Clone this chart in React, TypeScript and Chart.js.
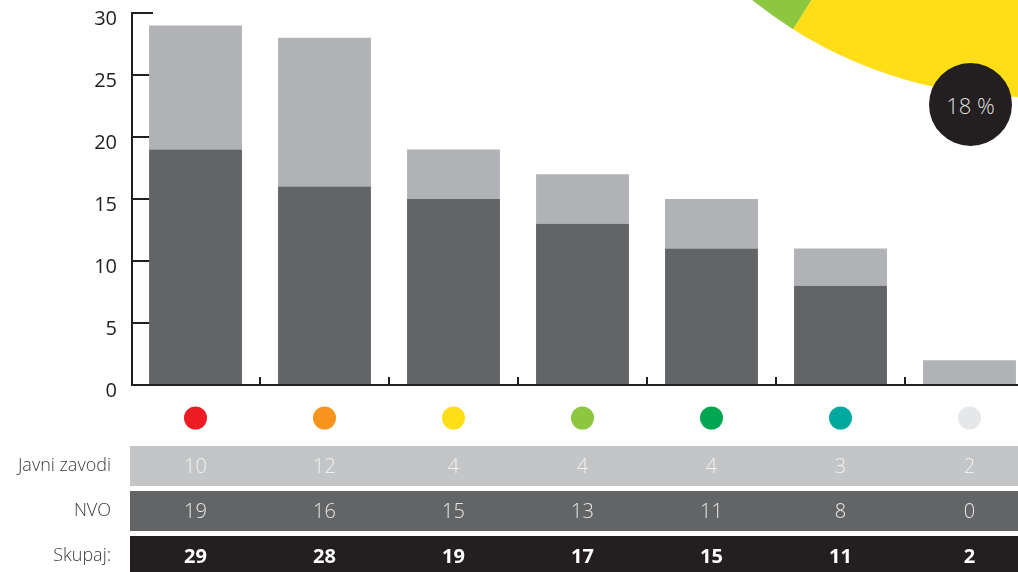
import React, { useEffect, useRef } from "react";
import { Chart, registerables } from "chart.js";
Chart.register(...registerables);

const categories = ["Rdeča", "Oranžna", "Rumena", "Svetlo zelena", "Zelena", "Turkizna", "Siva"];
const dotColors = ["#ed1c24", "#f7941d", "#ffde17", "#8dc63f", "#00a651", "#00a99d", "#e6e7e8"];
const javniZavodi = [10, 12, 4, 4, 4, 3, 2];
const nvo = [19, 16, 15, 13, 11, 8, 0];
const yTicks = [0, 5, 10, 15, 20, 25, 30];
const rowLabels = ["Javni zavodi", "NVO", "Skupaj:"];
const pieShares = [24, 23, 18, 14, 12, 8, 1];
const highlightLabel = "18 %";

const FONT = '"Open Sans", "Noto Sans", sans-serif';

export default function App() {
  const mainRef = useRef<HTMLCanvasElement | null>(null);
  const pieRef = useRef<HTMLCanvasElement | null>(null);

  useEffect(() => {
    const totals = javniZavodi.map((v, i) => v + nvo[i]);

    const decor = {
      id: "decor",
      beforeDatasetsDraw(chart: any) {
        const ctx = chart.ctx;
        const { left } = chart.chartArea;
        const y = chart.scales.y;
        ctx.save();
        ctx.strokeStyle = "#231f20";
        ctx.lineWidth = 2;
        ctx.fillStyle = "#231f20";
        ctx.font = `20px ${FONT}`;
        ctx.textAlign = "right";
        ctx.textBaseline = "middle";
        yTicks.forEach((v) => {
          const py = Math.round(y.getPixelForValue(v));
          if (v !== 0) {
            ctx.beginPath();
            ctx.moveTo(left, py);
            ctx.lineTo(left + 22, py);
            ctx.stroke();
          }
          ctx.fillText(String(v), left - 14, py + 6);
        });
        ctx.beginPath();
        ctx.moveTo(left + 1, Math.round(y.getPixelForValue(30)) - 1);
        ctx.lineTo(left + 1, Math.round(y.getPixelForValue(0)));
        ctx.stroke();
        ctx.restore();
      },
      afterDatasetsDraw(chart: any) {
        const ctx = chart.ctx;
        const { left, right, bottom } = chart.chartArea;
        const x = chart.scales.x;
        ctx.save();
        ctx.strokeStyle = "#231f20";
        ctx.lineWidth = 2;
        ctx.beginPath();
        ctx.moveTo(left, bottom);
        ctx.lineTo(right, bottom);
        ctx.stroke();
        for (let i = 1; i < categories.length; i++) {
          const bx = Math.round((x.getPixelForValue(i - 1) + x.getPixelForValue(i)) / 2);
          ctx.beginPath();
          ctx.moveTo(bx, bottom);
          ctx.lineTo(bx, bottom - 8);
          ctx.stroke();
        }
        ctx.restore();
      },
      afterDraw(chart: any) {
        const ctx = chart.ctx;
        const { left, bottom } = chart.chartArea;
        const x = chart.scales.x;
        const W = chart.width;
        ctx.save();
        // dots
        categories.forEach((_, i) => {
          ctx.beginPath();
          ctx.fillStyle = dotColors[i];
          ctx.arc(x.getPixelForValue(i), bottom + 33, 11.5, 0, Math.PI * 2);
          ctx.fill();
        });
        // table rows
        const rows = [
          { top: 61, h: 40, bg: "#c4c5c7", fg: "#f1f1f1", vals: javniZavodi, bold: false },
          { top: 106, h: 40, bg: "#636466", fg: "#e6e6e6", vals: nvo, bold: false },
          { top: 151, h: 40, bg: "#231f20", fg: "#ffffff", vals: totals, bold: true },
        ];
        rows.forEach((r, ri) => {
          const ty = bottom + r.top;
          ctx.fillStyle = r.bg;
          ctx.fillRect(left - 1, ty, W - left + 1, r.h);
          ctx.fillStyle = r.fg;
          ctx.font = `${r.bold ? "bold " : "300 "}20px ${FONT}`;
          ctx.textAlign = "center";
          ctx.textBaseline = "middle";
          const cy = ri === 2 ? ty + 20 : ty + r.h / 2;
          r.vals.forEach((v, i) => {
            ctx.fillText(String(v), x.getPixelForValue(i), cy + 1);
          });
          ctx.fillStyle = "#3a3a3a";
          ctx.font = `300 18px ${FONT}`;
          ctx.textAlign = "right";
          ctx.fillText(rowLabels[ri], left - 20, cy);
        });
        ctx.restore();
      },
    };

    const main = new Chart(mainRef.current!, {
      type: "bar",
      data: {
        labels: categories,
        datasets: [
          { label: "NVO", data: nvo, backgroundColor: "#636466", borderWidth: 0 },
          { label: "Javni zavodi", data: javniZavodi, backgroundColor: "#b1b2b5", borderWidth: 0 },
        ],
      },
      options: {
        responsive: false,
        animation: false,
        devicePixelRatio: 1,
        layout: { padding: { left: 131, top: 13, right: 0, bottom: 187 } },
        datasets: { bar: { barPercentage: 0.72, categoryPercentage: 1 } },
        scales: {
          x: { stacked: true, display: false },
          y: { stacked: true, display: false, min: 0, max: 30 },
        },
        plugins: { legend: { display: false }, tooltip: { enabled: false } },
      },
      plugins: [decor],
    });

    const pie = new Chart(pieRef.current!, {
      type: "pie",
      data: {
        labels: categories,
        datasets: [{ data: pieShares, backgroundColor: dotColors, borderWidth: 0 }],
      },
      options: {
        responsive: false,
        animation: false,
        devicePixelRatio: 1,
        rotation: -21.8,
        layout: { padding: 0 },
        plugins: { legend: { display: false }, tooltip: { enabled: false } },
      },
    });

    return () => {
      main.destroy();
      pie.destroy();
    };
  }, []);

  return (
    <div
      style={{
        position: "fixed",
        left: 0,
        top: 0,
        width: 1018,
        height: 572,
        overflow: "hidden",
        background: "#ffffff",
      }}
    >
      <div style={{ position: "absolute", left: 587, top: -785, width: 882, height: 882 }}>
        <canvas ref={pieRef} width={882} height={882} style={{ width: 882, height: 882 }} />
      </div>
      <div style={{ position: "absolute", left: 0, top: 0, width: 1034, height: 572 }}>
        <canvas ref={mainRef} width={1034} height={572} style={{ width: 1034, height: 572 }} />
      </div>
      <div
        style={{
          position: "absolute",
          left: 929,
          top: 63,
          width: 83,
          height: 83,
          borderRadius: "50%",
          background: "#231f20",
          color: "#dedede",
          fontFamily: FONT,
          fontWeight: 300,
          fontSize: 22,
          display: "flex",
          alignItems: "center",
          justifyContent: "center",
        }}
      >
        {highlightLabel}
      </div>
    </div>
  );
}
